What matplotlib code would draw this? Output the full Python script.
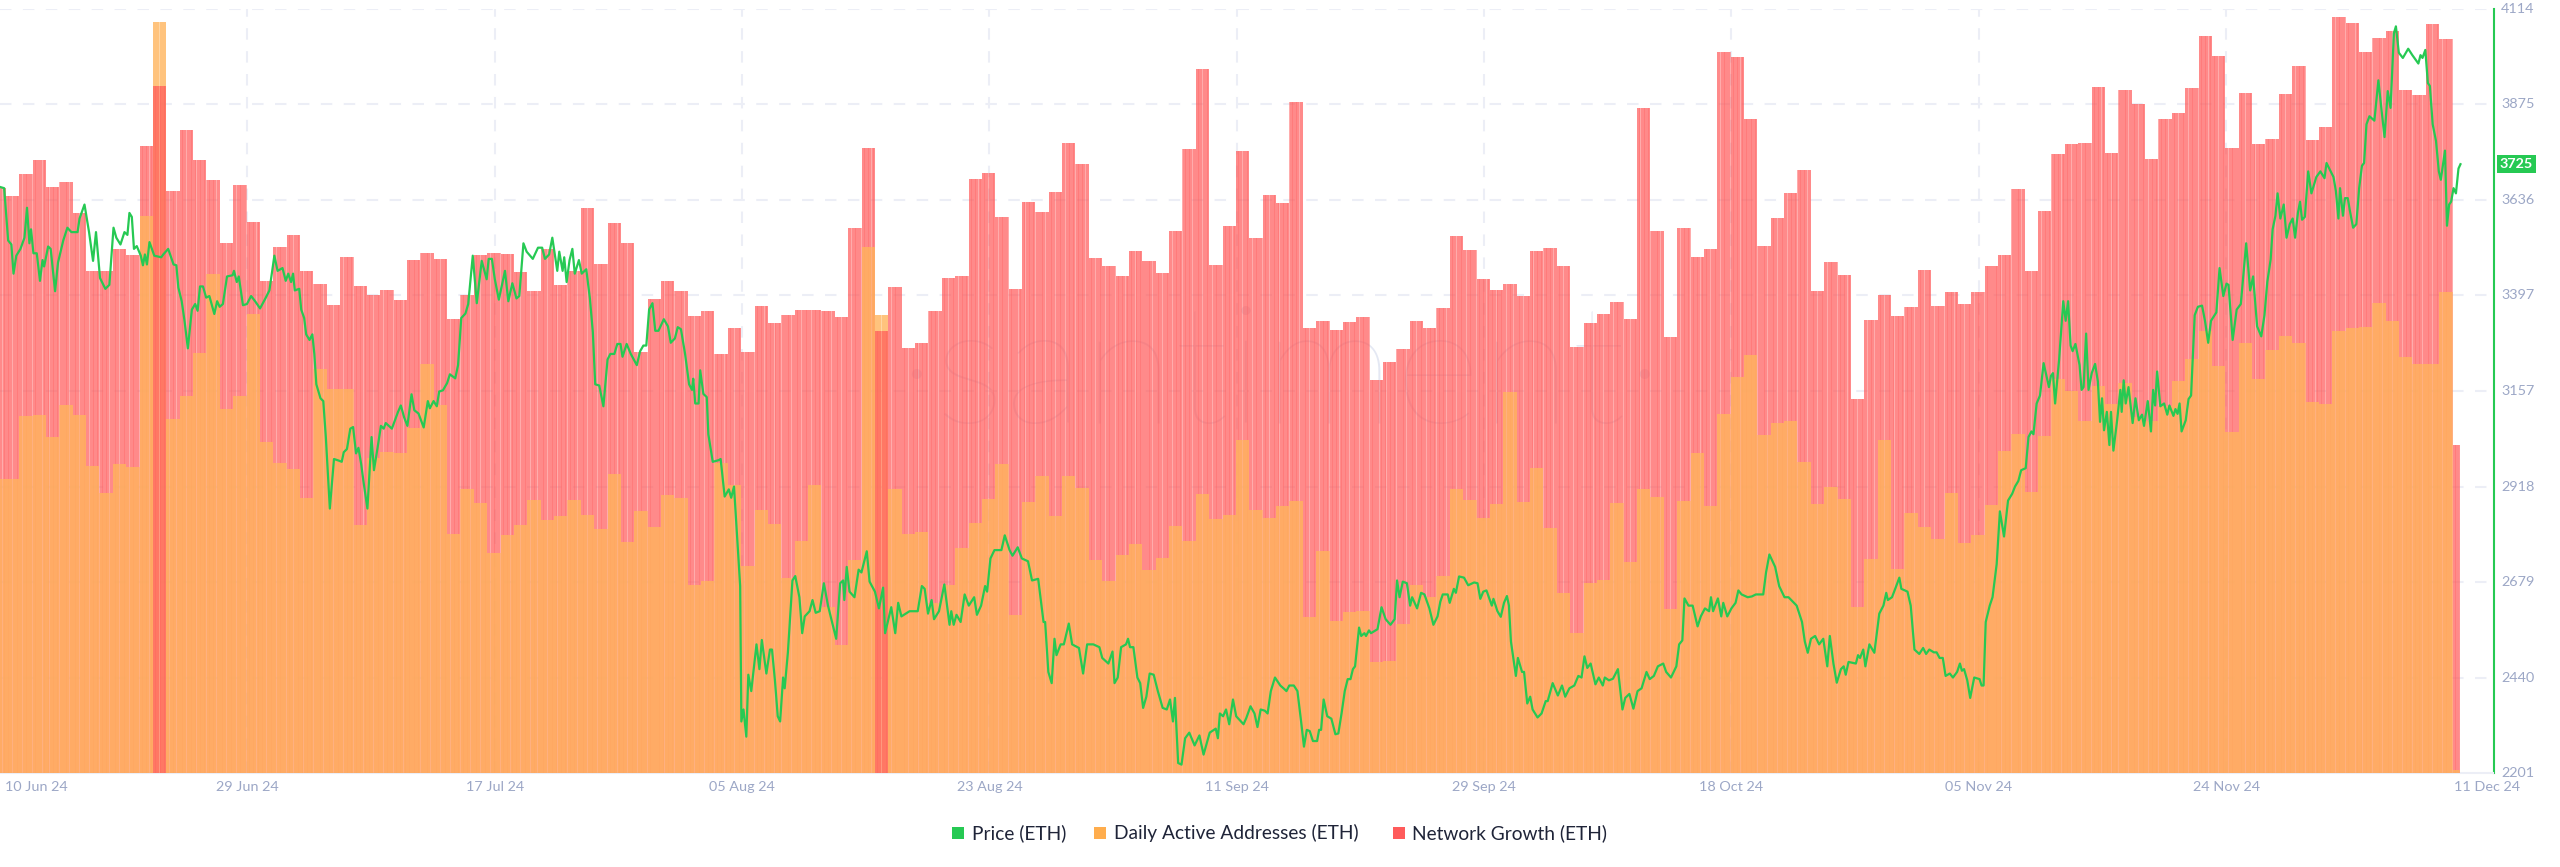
import numpy as np
import matplotlib
matplotlib.use("Agg")
import matplotlib.pyplot as plt
from matplotlib.patches import Rectangle

# Daily bars; own scales (units, arbitrary thousand-like units)
network_growth = [1058,1044,1084,1108,1060,1069,1012,907,907,947,937,1133,1242,1052,1162,1109,1072,958,1064,996,889,952,973,907,885,846,934,881,864,873,856,927,940,930,821,864,937,940,939,906,871,948,883,908,1022,921,995,959,762,
857,890,871,827,836,758,805,761,845,813,828,837,838,836,825,986,1130,800,879,769,778,836,896,899,1075,1085,1006,876,1032,1015,1050,1139,1101,932,917,899,944,926,904,980,1128,1274,919,990,1125,968,1046,1031,
1214,805,817,802,816,824,711,743,766,818,805,841,972,946,893,874,885,862,944,950,916,770,813,830,851,821,1203,980,789,986,933,947,1303,1295,1183,953,1004,1048,1091,872,925,901,676,820,865,827,843,909,
844,869,849,869,917,937,1056,908,1016,1119,1138,1139,1240,1121,1235,1210,1111,1183,1193,1239,1333,1296,1130,1229,1137,1146,1228,1278,1145,1168,1368,1356,1304,1329,1342,1236,1226,1355,1328,594]
daily_active = [532,532,645,647,607,665,647,556,507,559,554,1008,1358,641,681,760,903,659,682,830,599,561,550,497,730,695,694,448,570,581,579,624,740,666,432,513,489,397,430,448,494,458,465,493,466,442,541,417,474,
445,502,497,340,348,560,520,375,476,450,352,420,520,301,232,386,951,828,513,432,435,308,340,407,452,495,559,286,490,538,465,538,515,385,347,394,414,367,388,447,420,505,459,467,602,476,462,483,
491,283,402,274,291,293,201,203,269,340,319,356,513,493,461,487,689,490,552,443,326,253,344,349,488,382,514,500,296,492,579,483,650,717,756,611,633,637,563,486,517,495,300,387,602,369,471,444,
423,506,416,431,485,582,613,508,609,713,691,637,700,667,705,644,636,663,708,748,800,736,617,778,713,765,791,778,671,667,799,805,806,850,817,752,740,740,870,6]
bar_scale_max = 1382

# Price (ETH): (days since 10 Jun 24, price)
price_jun_jul = [(0.00,3668),(0.31,3665),(0.61,3534),(0.85,3524),(1.01,3451),(1.22,3496),(1.53,3513),(1.83,3541),(2.02,3616),(2.20,3527),(2.32,3562),(2.50,3502),(2.75,3502),(2.99,3433),(3.18,3485),(3.30,3469),(3.60,3519),(3.79,3513),(4.12,3407),(4.34,3479),(4.73,3534),(5.04,3566),(5.34,3555),(5.80,3555),(5.95,3589),(6.32,3624),(6.66,3555),(6.96,3483),(7.18,3555),(7.48,3440),(7.88,3413),(8.18,3423),(8.49,3566),(8.70,3541),(9.01,3524),(9.31,3555),(9.53,3548),(9.68,3603),(9.86,3593),(10.02,3513),(10.23,3520),(10.53,3496),(10.69,3472),(10.84,3499),(10.99,3474),(11.18,3530),(11.54,3496),(12.06,3492),(12.21,3499),(12.58,3513),(12.98,3474),(13.19,3472),(13.34,3416),(13.59,3382),(13.80,3333),(14.05,3264),(14.35,3361),(14.60,3375),(14.78,3358),(14.96,3419),(15.18,3419),(15.42,3391),(15.66,3395),(16.03,3350),(16.24,3382),(16.43,3368),(16.67,3375),(16.98,3444),(17.40,3447),(17.50,3458),(17.71,3430),(17.86,3444),(18.17,3372),(18.47,3375),(18.78,3395),(19.08,3382),(19.45,3364),(19.85,3389),(20.15,3409),(20.52,3496),(20.76,3458),(21.13,3465),(21.37,3433),(21.56,3451),(21.77,3430),(21.92,3451),(22.05,3409),(22.38,3413),(22.53,3361),(22.75,3340),(22.90,3299),(23.15,3285),(23.36,3299),(23.51,3250),(23.66,3174),(23.97,3139),(24.18,3132),(24.37,3042),(24.67,2863),(24.98,2987),(25.34,2983),(25.56,2980),(25.71,3004),(25.95,3012),(26.20,3063),(26.41,3067),(26.63,3001),(26.81,3015),(27.02,2973),(27.18,2932),(27.48,2863),(27.79,3042),(27.97,2959),(28.24,3015),(28.49,3070),(28.70,3063),(28.85,3077),(29.31,3063),(29.77,3105),(29.98,3121),(30.23,3091),(30.47,3070),(30.78,3149),(30.99,3109),(31.30,3101),(31.69,3066),(32.00,3132),(32.15,3114),(32.43,3132),(32.67,3119),(32.85,3156),(33.13,3159),(33.44,3177),(33.65,3199),(34.05,3189),(34.26,3222),(34.50,3340),(34.81,3351),(35.02,3375),(35.36,3496),(35.66,3377),(36.03,3483),(36.40,3437),(36.55,3488),(36.79,3488),(37.01,3437),(37.31,3386),(37.77,3458),(38.02,3382),(38.32,3427),(38.63,3389),(38.84,3395),(39.15,3527),(39.39,3506),(39.85,3488),(40.24,3516),(40.55,3516),(40.76,3488),(41.07,3499),(41.31,3541),(41.68,3458),(41.83,3506),(42.08,3458),(42.20,3492),(42.38,3430),(42.60,3485),(42.81,3513),(42.99,3451),(43.30,3485),(43.51,3451),(43.85,3462),(44.12,3389),(44.34,3305),(44.52,3174),(44.82,3171),(45.13,3119),(45.44,3236),(45.65,3250),(45.95,3250),(46.17,3275),(46.41,3275),(46.56,3243),(46.87,3275),(47.18,3250),(47.63,3222)]
price_jul_sep = [(47.88,3257),(48.12,3271),(48.34,3271),(48.55,3361),(48.80,3377),(49.01,3308),(49.25,3308),(49.65,3337),(49.96,3319),(50.17,3278),(50.48,3289),(50.69,3317),(50.93,3312),(51.24,3250),(51.54,3174),(51.76,3160),(51.85,3188),(52.00,3126),(52.25,3126),(52.37,3209),(52.61,3150),(52.86,3142),(52.98,3049),(53.31,2980),(53.74,2984),(53.90,2987),(54.20,2893),(54.51,2911),(54.69,2890),(54.90,2918),(55.21,2752),(55.36,2669),(55.45,2330),(55.61,2360),(55.82,2292),(55.97,2447),(56.19,2406),(56.58,2523),(56.80,2461),(56.98,2534),(57.32,2450),(57.59,2510),(57.74,2510),(57.96,2433),(58.17,2343),(58.35,2330),(58.57,2440),(58.69,2413),(58.93,2503),(59.27,2683),(59.48,2694),(59.79,2641),(60.00,2551),(60.19,2593),(60.55,2606),(60.77,2634),(61.01,2602),(61.31,2606),(61.62,2676),(61.93,2620),(62.23,2579),(62.54,2537),(62.84,2676),(63.06,2683),(63.15,2634),(63.33,2717),(63.54,2655),(63.91,2641),(64.22,2710),(64.43,2703),(64.83,2756),(65.04,2680),(65.44,2655),(65.74,2613),(66.05,2665),(66.20,2551),(66.66,2616),(66.96,2551),(67.18,2627),(67.42,2593),(68.03,2606),(68.64,2606),(68.95,2669),(69.16,2662),(69.41,2600),(69.68,2634),(69.86,2586),(70.23,2606),(70.63,2673),(71.02,2572),(71.15,2606),(71.33,2572),(71.54,2597),(71.85,2579),(72.15,2648),(72.46,2620),(72.86,2641),(73.07,2597),(73.38,2620),(73.68,2669),(73.83,2655),(74.08,2738),(74.38,2759),(74.90,2759),(75.15,2796),(75.51,2759),(75.73,2745),(76.12,2766),(76.43,2738),(76.89,2731),(77.19,2683),(77.65,2687),(78.05,2579),(78.17,2579),(78.41,2454),(78.66,2426),(78.87,2537),(79.02,2496),(79.33,2523),(79.57,2523),(79.94,2575),(80.19,2523),(80.70,2514),(81.01,2450),(81.31,2523),(81.77,2523),(82.23,2516),(82.44,2489),(82.90,2475),(83.21,2505),(83.36,2426),(83.60,2440),(83.85,2516),(84.22,2523),(84.37,2537),(84.52,2516),(84.77,2516),(85.07,2440),(85.28,2426),(85.50,2364),(85.74,2392),(85.99,2450),(86.29,2447),(86.60,2406),(86.96,2364),(87.27,2360),(87.51,2385),(87.73,2330),(87.88,2389),(88.12,2226),(88.37,2222),(88.64,2288),(88.95,2302),(89.35,2270),(89.71,2295),(90.02,2247),(90.48,2302),(90.93,2312),(91.09,2288),(91.24,2350),(91.48,2343),(91.70,2360),(91.94,2323),(92.22,2385),(92.46,2343),(93.01,2323),(93.22,2339),(93.53,2368),(93.83,2350),(94.05,2316),(94.29,2360),(94.60,2357),(94.81,2350),(95.05,2406),(95.36,2440)]
price_sep_oct = [(95.76,2420),(96.00,2413),(96.22,2406),(96.43,2420),(96.77,2420),(97.04,2406),(97.29,2337),(97.53,2267),(97.74,2309),(97.96,2306),(98.20,2281),(98.51,2281),(98.66,2309),(98.81,2309),(99.00,2385),(99.27,2343),(99.58,2337),(99.88,2298),(100.10,2300),(100.34,2350),(100.58,2406),(100.80,2436),(101.01,2436),(101.19,2461),(101.35,2468),(101.65,2565),(101.81,2544),(102.05,2551),(102.17,2544),(102.39,2558),(102.54,2551),(103.03,2561),(103.33,2616),(103.64,2586),(104.00,2572),(104.31,2586),(104.49,2683),(104.68,2641),(104.92,2680),(105.23,2676),(105.47,2620),(105.62,2641),(105.99,2613),(106.29,2652),(106.54,2648),(106.91,2613),(107.21,2572),(107.52,2593),(107.73,2630),(107.91,2648),(108.28,2648),(108.43,2627),(108.74,2662),(108.89,2652),(109.13,2693),(109.50,2690),(109.81,2671),(110.26,2678),(110.51,2676),(110.72,2637),(110.94,2655),(111.18,2658),(111.58,2620),(111.70,2637),(112.00,2606),(112.25,2592),(112.49,2627),(112.71,2644),(112.86,2620),(113.01,2530),(113.38,2444),(113.53,2489),(113.84,2454),(113.99,2454),(114.23,2375),(114.45,2392),(114.63,2360),(115.00,2340),(115.30,2350),(115.61,2381),(115.76,2381),(116.13,2426),(116.52,2395),(116.83,2420),(117.07,2392),(117.38,2413),(117.75,2420),(118.05,2444),(118.29,2440),(118.51,2493),(118.72,2464),(118.97,2475),(119.33,2423),(119.58,2440),(119.88,2420),(120.03,2440),(120.34,2433),(120.64,2437),(121.01,2461),(121.35,2360),(121.56,2389),(121.87,2399),(122.17,2362),(122.48,2406),(122.78,2413),(123.15,2454),(123.39,2436),(123.70,2444),(124.00,2468),(124.40,2475),(124.62,2454),(124.98,2440),(125.38,2468),(125.59,2523),(125.83,2533),(125.99,2638),(126.29,2620),(126.60,2620),(126.97,2568),(127.21,2593),(127.52,2613),(127.83,2606),(127.97,2641),(128.13,2606),(128.49,2638),(128.74,2593),(128.89,2627),(129.19,2593),(129.50,2613),(129.81,2627),(130.02,2658),(130.26,2648),(130.72,2641),(131.03,2643),(131.33,2648),(131.88,2648),(132.09,2703),(132.34,2748),(132.77,2717),(133.07,2669),(133.47,2641),(133.77,2641),(134.38,2620),(134.78,2579),(134.99,2530),(135.21,2502),(135.45,2537),(135.76,2544),(136.06,2523),(136.37,2537),(136.67,2468),(136.86,2544),(137.13,2475),(137.38,2427),(137.69,2461),(137.90,2468),(138.05,2447),(138.26,2479),(138.81,2475),(138.97,2496),(139.12,2489),(139.36,2510),(139.52,2468),(139.82,2523),(140.19,2502),(140.56,2600),(140.87,2620),(141.08,2652),(141.20,2634),(141.51,2641),(141.75,2662),(142.06,2690),(142.21,2662),(142.67,2655),(142.91,2620),(143.19,2510),(143.55,2499)]
price_oct_dec = [(143.63,2503),(143.84,2514),(144.06,2499),(144.30,2510),(144.64,2503),(144.85,2503),(145.07,2489),(145.31,2489),(145.52,2444),(145.83,2450),(146.07,2440),(146.38,2454),(146.59,2475),(146.74,2457),(146.90,2461),(147.14,2433),(147.36,2389),(147.66,2440),(148.06,2436),(148.21,2420),(148.36,2420),(148.52,2579),(148.82,2620),(149.03,2641),(149.34,2724),(149.58,2856),(149.89,2793),(150.19,2883),(150.50,2900),(150.71,2918),(150.96,2932),(151.17,2959),(151.51,2964),(151.72,3042),(151.94,3056),(152.09,3049),(152.33,3126),(152.58,3146),(152.85,3227),(153.25,3167),(153.40,3195),(153.55,3202),(153.71,3126),(154.01,3236),(154.32,3382),(154.50,3333),(154.68,3382),(154.87,3271),(155.02,3257),(155.23,3275),(155.54,3222),(155.69,3160),(155.84,3167),(156.03,3301),(156.21,3160),(156.45,3202),(156.70,3225),(156.91,3181),(157.07,3080),(157.22,3139),(157.37,3059),(157.58,3105),(157.77,3022),(157.89,3105),(158.07,3008),(158.35,3084),(158.59,3160),(158.69,3105),(158.84,3184),(158.99,3126),(159.20,3167),(159.51,3077),(159.72,3139),(159.97,3084),(160.21,3098),(160.36,3070),(160.64,3132),(160.88,3056),(161.04,3160),(161.19,3121),(161.34,3206),(161.58,3119),(161.86,3126),(162.10,3098),(162.26,3121),(162.56,3095),(162.71,3112),(162.87,3100),(163.02,3126),(163.17,3056),(163.48,3084),(163.69,3137),(163.88,3146),(164.15,3347),(164.39,3368),(164.70,3371),(164.92,3333),(165.16,3278),(165.37,3333),(165.77,3354),(166.01,3465),(166.29,3395),(166.53,3426),(166.68,3423),(166.99,3285),(167.29,3361),(167.60,3375),(168.00,3527),(168.30,3409),(168.52,3444),(168.82,3319),(169.13,3294),(169.37,3347),(169.58,3430),(169.83,3486),(169.98,3562),(170.19,3596),(170.35,3652),(170.56,3589),(170.81,3624),(171.02,3541),(171.26,3575),(171.48,3589),(171.66,3541),(171.87,3603),(172.03,3631),(172.18,3586),(172.39,3593),(172.64,3707),(172.88,3652),(173.25,3693),(173.55,3707),(173.86,3690),(174.01,3728),(174.32,3707),(174.53,3693),(174.71,3658),(174.90,3589),(175.02,3665),(175.24,3596),(175.39,3640),(175.60,3640),(175.75,3610),(176.00,3566),(176.24,3575),(176.45,3665),(176.66,3721),(176.82,3728),(177.00,3825),(177.22,3845),(177.59,3834),(177.89,3935),(178.13,3859),(178.35,3793),(178.59,3908),(178.80,3866),(179.05,4053),(179.20,4070),(179.42,4004),(179.72,3991),(180.12,4014),(180.43,3998),(180.88,3977),(181.04,3998),(181.19,3991),(181.40,4011),(181.59,3928),(181.74,3921),(181.95,3825),(182.20,3783),(182.41,3707),(182.56,3686),(182.87,3759),(183.02,3571),(183.18,3624),(183.33,3631),(183.51,3665),(183.69,3652),(183.88,3714),(184.03,3725)]
last_price = 3725

y_ticks = [2201, 2440, 2679, 2918, 3157, 3397, 3636, 3875, 4114]
x_labels = ["10 Jun 24","29 Jun 24","17 Jul 24","05 Aug 24","23 Aug 24","11 Sep 24","29 Sep 24","18 Oct 24","05 Nov 24","24 Nov 24","11 Dec 24"]
tick_step_days = 18.5
legend_labels = ["Price (ETH)", "Daily Active Addresses (ETH)", "Network Growth (ETH)"]

GREEN, ORANGE, RED = "#26C953", "#FFB55C", "#FF5B5B"
LEGEND_ORANGE = "#FFAD4D"
TICK = "#9CA7C6"; GRID = "#ECEEF6"; TEXT = "#1F2438"
FONT = "Lato"
W, H = 2560, 867
plt.rcParams["font.family"] = [FONT, "DejaVu Sans"]

fig = plt.figure(figsize=(W/100, H/100), dpi=100)
L, R, T, B = 0, 2493.5, 8.8, 773
rect = [L/W, 1-B/H, (R-L)/W, (B-T)/H]
px_per_day = 13.37
xlim = (0, (R-L)/px_per_day)

ax_grid = fig.add_axes(rect, zorder=1)
ax_bar = fig.add_axes(rect, zorder=2, frameon=False)
ax_line = fig.add_axes(rect, zorder=3, frameon=False)
for a in (ax_grid, ax_bar, ax_line):
    a.set_xlim(*xlim)
ax_grid.set_ylim(y_ticks[0], y_ticks[-1]); ax_line.set_ylim(y_ticks[0], y_ticks[-1])
ax_bar.set_ylim(0, bar_scale_max)
ax_bar.axis("off"); ax_line.axis("off")

# grid, ticks
grid_kw = dict(color=GRID, lw=1.5, dashes=(5.5, 5.5), zorder=1)
for y in y_ticks[1:]:
    ax_grid.axhline(y, **grid_kw)
tick_days = [k*tick_step_days for k in range(1, len(x_labels)-1)]
for d in tick_days:
    ax_grid.axvline(d, **grid_kw)
ax_grid.set_xticks([]); ax_grid.set_yticks([])
for s in ("top", "left"):
    ax_grid.spines[s].set_visible(False)
ax_grid.spines["bottom"].set_color(GRID); ax_grid.spines["bottom"].set_linewidth(1.5)
ax_grid.spines["right"].set_color(GREEN); ax_grid.spines["right"].set_linewidth(1.5)

fs = 10.4
for y in y_ticks:
    ax_grid.annotate(str(y), (1, y), xycoords=("axes fraction", "data"), xytext=(7.5, 0),
                     textcoords="offset pixels", ha="left", va="center", fontsize=fs, color=TICK, annotation_clip=False)
fig.text(36/W, 1-787/H, x_labels[0], ha="center", va="center", fontsize=fs, color=TICK)
for d, lab in zip(tick_days, x_labels[1:-1]):
    ax_grid.annotate(lab, (d, 0), xycoords=("data", "axes fraction"), xytext=(0, -14),
                     textcoords="offset pixels", ha="center", va="center", fontsize=fs, color=TICK, annotation_clip=False)
fig.text(2487/W, 1-787/H, x_labels[-1], ha="center", va="center", fontsize=fs, color=TICK)

# watermark
ax_grid.text(1280/R, 1-(423-T)/(B-T), "\u00b7santiment\u00b7", transform=ax_grid.transAxes, ha="center", va="baseline",
             fontsize=120, color="#E4E8F3", zorder=0.9, fontweight="light")

# bars: a full-width pale layer plus thin sub-columns and hairlines, so the rendering keeps the fine stripes
net = np.array(network_growth, float); daa = np.array(daily_active, float)
days = np.arange(len(net))
n_sub = 4
last_day = len(net)-1
def stripes(vals, mask, color, alpha, z, count, width, shift):
    sub = (np.arange(count)+0.5)/count - 0.5 - 0.06 + shift
    xs = (days[mask][:, None] + sub).ravel()
    hs = np.repeat(vals[mask], count)
    keep = xs <= last_day
    ax_bar.bar(xs[keep], hs[keep], width=width, color=color, alpha=alpha, lw=0, zorder=z)
def draw(vals, mask, color, base, top, dark, z):
    xs = days[mask] - 0.06
    widths = np.where(days[mask] == last_day, 0.56, 1.0)
    ax_bar.bar(xs - np.where(days[mask] == last_day, 0.22, 0), vals[mask], width=widths, color=color, alpha=base, lw=0, zorder=z)
    stripes(vals, mask, color, top, z+0.1, n_sub, 0.9/n_sub, 0)
    stripes(vals, mask, color, dark, z+0.2, 3, 0.05, 0.04)
red_tall = net >= daa
draw(net, red_tall, RED, 0.50, 0.42, 0.30, 2)
draw(daa, red_tall, ORANGE, 0.55, 0.55, 0.0, 3)
draw(daa, ~red_tall, ORANGE, 0.55, 0.55, 0.0, 2)
draw(net, ~red_tall, RED, 0.50, 0.42, 0.30, 3)

# price line
trace = price_jun_jul + price_jul_sep + price_sep_oct + price_oct_dec
ax_line.plot([t[0] for t in trace], [t[1] for t in trace], color=GREEN, lw=1.6, solid_joinstyle="round")

# last price label
ax_grid.annotate(str(last_price), (1, last_price), xycoords=("axes fraction", "data"), xytext=(23, 0),
                 textcoords="offset pixels", ha="center", va="center", fontsize=fs, color="white", fontweight="bold",
                 annotation_clip=False, zorder=6,
                 bbox=dict(boxstyle="square,pad=0.2", fc=GREEN, ec="none"))

# legend
squares = [952, 1094, 1393]; texts = [972, 1114, 1412]
for sx, tx, c, lab in zip(squares, texts, [GREEN, LEGEND_ORANGE, RED], legend_labels):
    fig.patches.append(Rectangle((sx/W, 1-839/H), 12/W, 12/H, transform=fig.transFigure, fc=c, ec="none"))
    fig.text(tx/W, 1-833/H, lab, ha="left", va="center", fontsize=13.8, color=TEXT)

fig.savefig("out.png", dpi=100)
